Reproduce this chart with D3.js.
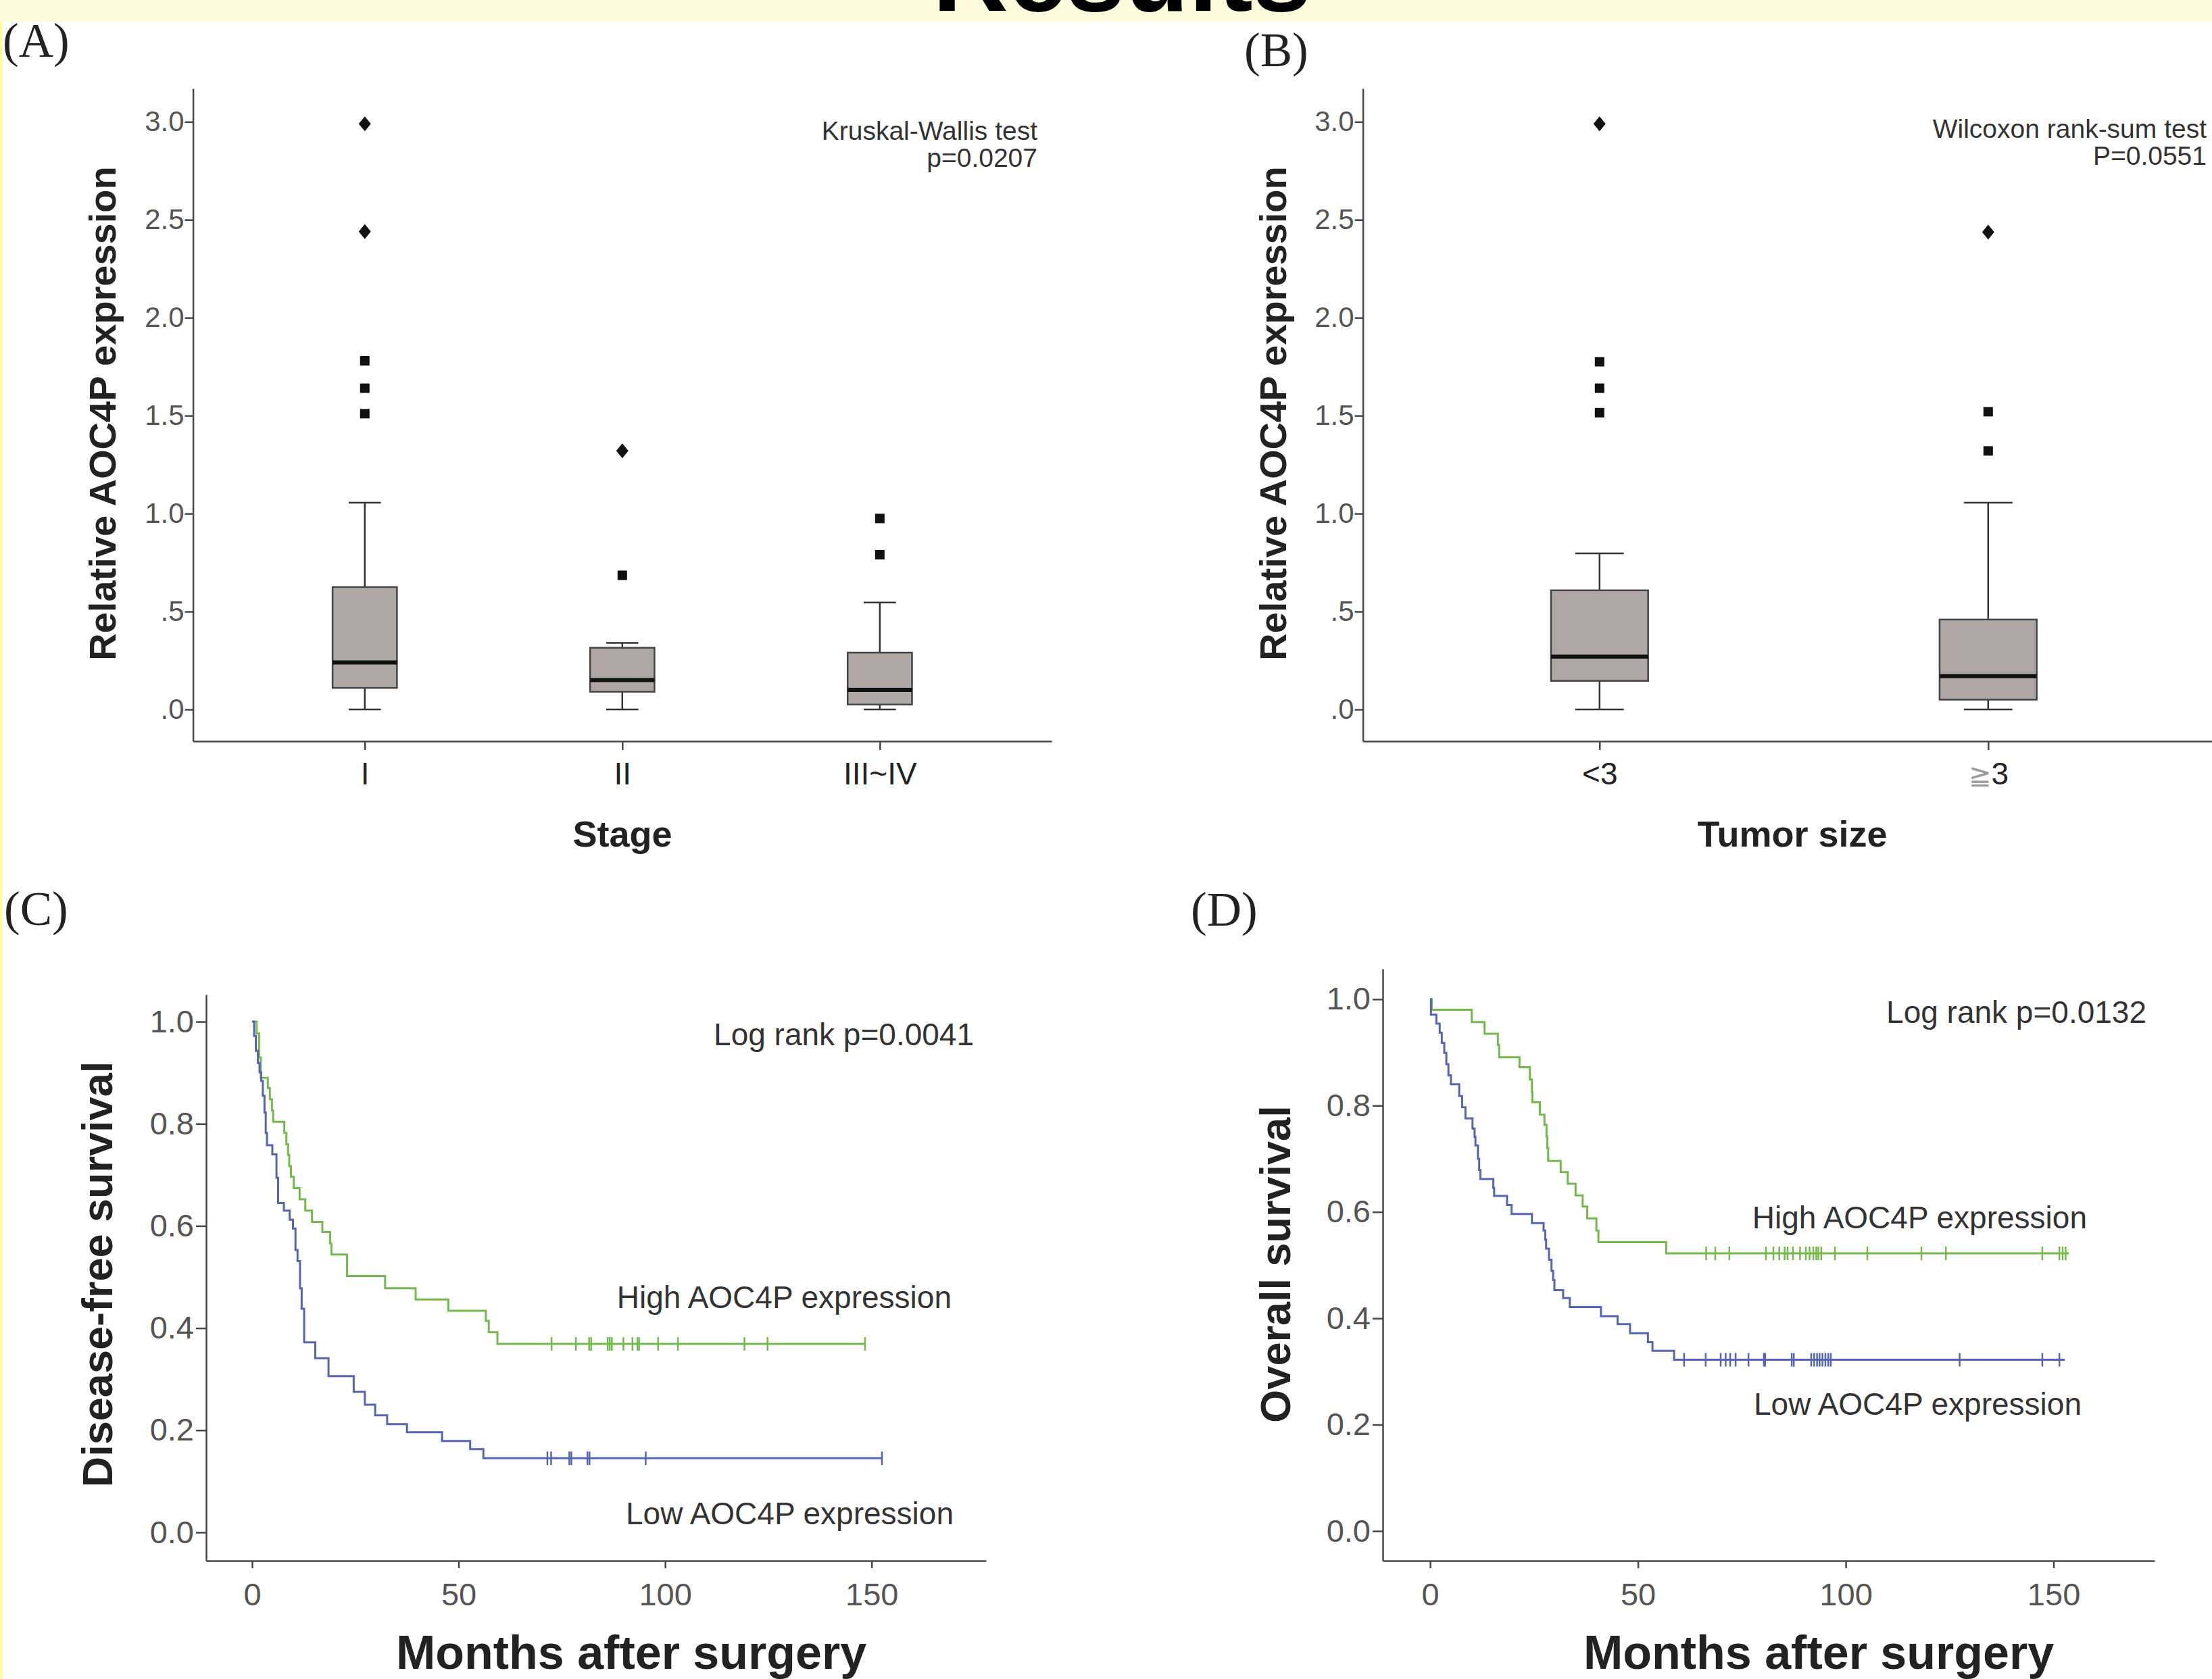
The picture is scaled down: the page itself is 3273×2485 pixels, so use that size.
<!DOCTYPE html>
<html>
<head>
<meta charset="utf-8">
<script src="https://cdn.jsdelivr.net/npm/d3@7"></script>
<style>
  body { margin: 0; background: #fff; }
  svg { display: block; }
  text { font-family: "Liberation Sans", Arial, sans-serif; }
</style>
</head>
<body>
<script>
// ---- data ----

// box plots: y axis ticks
const boxTickValues = [0, 0.5, 1, 1.5, 2, 2.5, 3];
const boxTickLabels = [".0", ".5", "1.0", "1.5", "2.0", "2.5", "3.0"];

// (A) stage
const stageCats = ["I", "II", "III~IV"];
const stageLow = [0, 0, 0];
const stageQ1 = [0.11, 0.09, 0.025];
const stageMedian = [0.24, 0.15, 0.10];
const stageQ3 = [0.625, 0.315, 0.29];
const stageHigh = [1.056, 0.34, 0.546];
const stageOutliers = [[1.51, 1.64, 1.78], [0.685], [0.79, 0.975]];
const stageExtremes = [[2.44, 2.99], [1.32], []];

// (B) tumor size
const sizeCats = ["<3", "≧3"];
const sizeLow = [0, 0];
const sizeQ1 = [0.146, 0.05];
const sizeMedian = [0.27, 0.17];
const sizeQ3 = [0.608, 0.459];
const sizeHigh = [0.797, 1.056];
const sizeOutliers = [[1.515, 1.64, 1.775], [1.32, 1.52]];
const sizeExtremes = [[2.99], [2.437]];

// survival axes
const monthTicks = [0, 50, 100, 150];
const survTicks = [0, 0.2, 0.4, 0.6, 0.8, 1.0];

// (C) disease-free survival, [month, survival] after each event
const dfsHigh = [[0, 1], [1.1, 0.977], [1.7, 0.93], [2.1, 0.89], [3.8, 0.87], [4.3, 0.848], [4.8, 0.826],
  [5.1, 0.804], [7.8, 0.782], [8.3, 0.76], [8.7, 0.739], [9.0, 0.717], [9.4, 0.696], [10.1, 0.674],
  [11.5, 0.652], [12.9, 0.63], [14.5, 0.608], [17.0, 0.588], [18.9, 0.566], [19.2, 0.544], [23.0, 0.502],
  [32.2, 0.478], [39.6, 0.456], [47.5, 0.434], [56.6, 0.414], [57.3, 0.392], [59.4, 0.369]];
const dfsHighEnd = 148.4;
const dfsHighCensor = [72.5, 78.4, 81.6, 82.1, 86.1, 86.6, 87.1, 89.9, 92.1, 93.3, 93.7, 98.3, 103.1, 119.2, 124.8, 148.4];

const dfsLow = [[0, 1], [0.5, 0.972], [0.9, 0.943], [1.4, 0.919], [1.8, 0.901], [2.2, 0.884], [2.6, 0.855],
  [3.0, 0.822], [3.3, 0.782], [3.6, 0.758], [4.9, 0.74], [5.9, 0.694], [6.3, 0.645], [7.7, 0.63],
  [9.1, 0.612], [9.9, 0.595], [10.5, 0.553], [11.0, 0.531], [11.6, 0.478], [12.0, 0.438], [12.6, 0.372],
  [15.3, 0.341], [18.5, 0.306], [24.6, 0.275], [27.3, 0.25], [29.8, 0.229], [32.7, 0.212], [37.5, 0.196],
  [46.0, 0.179], [52.8, 0.163], [56.0, 0.145]];
const dfsLowEnd = 152.5;
const dfsLowCensor = [71.5, 72.4, 76.8, 77.3, 81.2, 81.7, 95.3, 152.5];

// (D) overall survival
const osHigh = [[0, 1], [0.4, 0.98], [10.0, 0.957], [13.1, 0.935], [16.3, 0.914], [16.6, 0.891], [21.5, 0.872],
  [24.0, 0.849], [24.5, 0.825], [24.6, 0.806], [26.4, 0.783], [27.5, 0.764], [28.0, 0.742], [28.2, 0.72],
  [28.4, 0.696], [31.4, 0.675], [33.1, 0.653], [35.0, 0.631], [36.7, 0.61], [37.8, 0.588], [40.0, 0.565],
  [40.5, 0.543], [56.8, 0.522]];
const osHighEnd = 153.7;
const osHighCensor = [66.4, 68.6, 72.0, 80.8, 82.6, 84.0, 85.3, 86.0, 87.3, 89.0, 90.4, 91.3, 92.2, 92.9,
  93.4, 94.1, 97.4, 105.2, 118.2, 124.1, 147.3, 151.4, 152.2, 152.9];

const osLow = [[0, 1], [0.2, 0.971], [1.5, 0.954], [2.3, 0.937], [2.8, 0.918], [3.4, 0.899], [3.9, 0.878],
  [4.4, 0.857], [5.0, 0.84], [7.0, 0.818], [7.7, 0.797], [8.5, 0.776], [10.2, 0.757], [10.7, 0.741],
  [10.9, 0.725], [11.5, 0.7], [11.8, 0.679], [12.1, 0.662], [15.2, 0.645], [15.4, 0.63], [18.5, 0.613],
  [19.6, 0.596], [24.5, 0.579], [27.3, 0.565], [27.7, 0.548], [27.9, 0.531], [28.6, 0.51], [29.2, 0.489],
  [29.6, 0.472], [29.9, 0.453], [32.0, 0.438], [33.6, 0.421], [41.1, 0.404], [45.1, 0.389], [48.1, 0.372],
  [52.4, 0.355], [53.5, 0.339], [58.7, 0.322]];
const osLowEnd = 152.7;
const osLowCensor = [61.1, 66.3, 69.9, 71.1, 72.2, 73.5, 76.6, 80.3, 80.6, 87.0, 87.5, 91.7, 92.4, 93.1,
  93.7, 94.4, 95.1, 95.8, 96.4, 127.4, 147.3, 151.4];

// ---- styles ----
const W = 3273, H = 2485;
const AXIS_COLOR = "#474747";
const TICK_TEXT = "#555";
const NOTE_TEXT = "#333";
const BOX_FILL = "#afa7a3";
const GREEN = "#74b94c";
const BLUE = "#5565b3";

const svg = d3.select("body").append("svg").attr("width", W).attr("height", H);

svg.append("rect").attr("width", W).attr("height", H).attr("fill", "#fff");
// slide header band and left edge
svg.append("rect").attr("width", W).attr("height", 32).attr("fill", "#fdfbdb");
svg.append("rect").attr("y", 32).attr("width", 3).attr("height", H - 32).attr("fill", "#ffff8c");
svg.append("text").attr("x", 1660).attr("y", 16).attr("text-anchor", "middle")
  .attr("font-size", 155).attr("font-weight", "bold").attr("fill", "#000").text("Results");

const panelLabel = (x, y, s) => svg.append("text").attr("x", x).attr("y", y)
  .style("font-family", '"Liberation Serif", "Times New Roman", serif')
  .attr("font-size", 71).attr("fill", "#222").text(s);

const styleAxis = (sel, size, color) => {
  sel.select(".domain").attr("stroke", AXIS_COLOR).attr("stroke-width", 2.5);
  sel.selectAll(".tick line").attr("stroke", AXIS_COLOR).attr("stroke-width", 2.5);
  sel.selectAll(".tick text").attr("font-size", size).attr("fill", color)
    .style("font-family", '"Liberation Sans", Arial, sans-serif');
};

// box plot panel
const drawBoxPanel = (cfg) => {
  const g = svg.append("g");
  const x = d3.scalePoint().domain(cfg.cats).range(cfg.xRange).padding(cfg.pad);
  const y = d3.scaleLinear().domain([-0.162, 3.17]).range([1097, 131]);
  const bw = x.step() * 0.25;

  g.append("g").attr("transform", `translate(${cfg.xRange[0]},0)`)
    .call(d3.axisLeft(y).tickValues(boxTickValues).tickFormat((d, i) => boxTickLabels[i])
      .tickSize(12).tickSizeOuter(0).tickPadding(1))
    .call(s => styleAxis(s, 42, TICK_TEXT));
  const xAxis = g.append("g").attr("transform", `translate(0,${y.range()[0]})`)
    .call(d3.axisBottom(x).tickSize(13).tickSizeOuter(0).tickPadding(18))
    .call(s => styleAxis(s, 46, "#222"));
  // the ≧ sign is printed lighter than the digit
  xAxis.selectAll(".tick text").filter(d => d.startsWith("≧")).each(function (d) {
    const t = d3.select(this).text(null);
    t.append("tspan").attr("fill", "#9a9a9a").attr("font-size", 40).text(d.slice(0, 1));
    t.append("tspan").text(d.slice(1));
  });

  cfg.cats.forEach((c, i) => {
    const cx = x(c);
    const bg = g.append("g");
    bg.append("line").attr("x1", cx).attr("x2", cx).attr("y1", y(cfg.low[i])).attr("y2", y(cfg.high[i]))
      .attr("stroke", "#333").attr("stroke-width", 2.5);
    [cfg.low[i], cfg.high[i]].forEach(v => bg.append("line")
      .attr("x1", cx - bw / 4).attr("x2", cx + bw / 4).attr("y1", y(v)).attr("y2", y(v))
      .attr("stroke", "#333").attr("stroke-width", 2.5));
    bg.append("rect").attr("x", cx - bw / 2).attr("width", bw)
      .attr("y", y(cfg.q3[i])).attr("height", y(cfg.q1[i]) - y(cfg.q3[i]))
      .attr("fill", BOX_FILL).attr("stroke", "#444").attr("stroke-width", 2.5);
    bg.append("line").attr("x1", cx - bw / 2).attr("x2", cx + bw / 2)
      .attr("y1", y(cfg.median[i])).attr("y2", y(cfg.median[i]))
      .attr("stroke", "#111").attr("stroke-width", 6);
    bg.selectAll("rect.out").data(cfg.outliers[i]).join("rect").attr("class", "out")
      .attr("x", cx - 7).attr("y", d => y(d) - 7).attr("width", 14).attr("height", 14).attr("fill", "#111");
    bg.selectAll("path.ext").data(cfg.extremes[i]).join("path").attr("class", "ext")
      .attr("d", d => `M${cx},${y(d) - 11}L${cx + 9},${y(d)}L${cx},${y(d) + 11}L${cx - 9},${y(d)}Z`)
      .attr("fill", "#111");
  });

  g.append("text").attr("transform", `translate(${cfg.yLabelX},${cfg.yLabelY}) rotate(-90)`)
    .attr("text-anchor", "middle").attr("font-size", 56).attr("font-weight", "bold").attr("fill", "#222")
    .text("Relative AOC4P expression");
  g.append("text").attr("x", cfg.xLabelX).attr("y", 1253).attr("text-anchor", "middle")
    .attr("font-size", 54).attr("font-weight", "bold").attr("fill", "#222").text(cfg.xLabel);
  cfg.notes.forEach((t, i) => g.append("text").attr("x", cfg.noteX).attr("y", cfg.noteY + i * 40)
    .attr("text-anchor", "end").attr("font-size", 39).attr("fill", NOTE_TEXT).text(t));
};

// Kaplan-Meier panel
const drawKmPanel = (cfg) => {
  const g = svg.append("g");
  const x = d3.scaleLinear().domain(cfg.xDomain).range(cfg.xRange);
  const y = d3.scaleLinear().domain(cfg.yDomain).range(cfg.yRange);

  g.append("g").attr("transform", `translate(${cfg.xRange[0]},0)`)
    .call(d3.axisLeft(y).tickValues(survTicks).tickFormat(d3.format(".1f"))
      .tickSize(15).tickSizeOuter(0).tickPadding(3))
    .call(s => styleAxis(s, 47, TICK_TEXT));
  g.append("g").attr("transform", `translate(0,${cfg.yRange[0]})`)
    .call(d3.axisBottom(x).tickValues(monthTicks).tickSize(11).tickSizeOuter(0).tickPadding(22))
    .call(s => styleAxis(s, 47, TICK_TEXT));

  const line = d3.line().x(d => x(d[0])).y(d => y(d[1])).curve(d3.curveStepAfter);
  const stepAt = (steps, t) => {
    let s = steps[0][1];
    steps.forEach(p => { if (p[0] <= t) s = p[1]; });
    return s;
  };
  cfg.curves.forEach(cv => {
    const pts = cv.steps.concat([[cv.end, cv.steps[cv.steps.length - 1][1]]]);
    g.append("path").attr("d", line(pts)).attr("fill", "none")
      .attr("stroke", cv.color).attr("stroke-width", 3);
    g.selectAll(null).data(cv.censor).join("line")
      .attr("x1", d => x(d)).attr("x2", d => x(d))
      .attr("y1", d => y(stepAt(cv.steps, d)) - 10).attr("y2", d => y(stepAt(cv.steps, d)) + 10)
      .attr("stroke", cv.color).attr("stroke-width", 2.5);
  });

  g.append("text").attr("transform", `translate(${cfg.yLabelX},${cfg.yLabelY}) rotate(-90)`)
    .attr("text-anchor", "middle").attr("font-size", 63).attr("font-weight", "bold").attr("fill", "#222")
    .text(cfg.yLabel);
  g.append("text").attr("x", cfg.xLabelX).attr("y", 2470).attr("text-anchor", "middle")
    .attr("font-size", 70).attr("font-weight", "bold").attr("fill", "#222").text("Months after surgery");
  cfg.notes.forEach(n => g.append("text").attr("x", n[0]).attr("y", n[1]).attr("text-anchor", "end")
    .attr("font-size", 46).attr("fill", NOTE_TEXT).text(n[2]));
};

panelLabel(4, 84, "(A)");
panelLabel(1841, 98, "(B)");
panelLabel(6, 1369, "(C)");
panelLabel(1762, 1370, "(D)");

drawBoxPanel({
  cats: stageCats, xRange: [285.6, 1556], pad: 0.667,
  low: stageLow, q1: stageQ1, median: stageMedian, q3: stageQ3, high: stageHigh,
  outliers: stageOutliers, extremes: stageExtremes,
  yLabelX: 171, yLabelY: 612, xLabel: "Stage", xLabelX: 921,
  notes: ["Kruskal-Wallis test", "p=0.0207"], noteX: 1535, noteY: 207
});

drawBoxPanel({
  cats: sizeCats, xRange: [2016.6, 3292], pad: 0.609,
  low: sizeLow, q1: sizeQ1, median: sizeMedian, q3: sizeQ3, high: sizeHigh,
  outliers: sizeOutliers, extremes: sizeExtremes,
  yLabelX: 1903, yLabelY: 612, xLabel: "Tumor size", xLabelX: 2652,
  notes: ["Wilcoxon rank-sum test", "P=0.0551"], noteX: 3265, noteY: 204
});

drawKmPanel({
  xDomain: [-11.13, 177.7], xRange: [305, 1459],
  yDomain: [-0.0556, 1.053], yRange: [2310, 1472],
  yLabel: "Disease-free survival", yLabelX: 166, yLabelY: 1886, xLabelX: 934,
  curves: [
    { steps: dfsHigh, end: dfsHighEnd, censor: dfsHighCensor, color: GREEN },
    { steps: dfsLow, end: dfsLowEnd, censor: dfsLowCensor, color: BLUE }
  ],
  notes: [[1441, 1547, "Log rank p=0.0041"], [1408, 1936, "High AOC4P expression"],
    [1411, 2256, "Low AOC4P expression"]]
});

drawKmPanel({
  xDomain: [-11.4, 174.3], xRange: [2046, 3188],
  yDomain: [-0.0559, 1.057], yRange: [2310, 1434],
  yLabel: "Overall survival", yLabelX: 1909, yLabelY: 1871, xLabelX: 2691,
  curves: [
    { steps: osHigh, end: osHighEnd, censor: osHighCensor, color: GREEN },
    { steps: osLow, end: osLowEnd, censor: osLowCensor, color: BLUE }
  ],
  notes: [[3176, 1514, "Log rank p=0.0132"], [3088, 1818, "High AOC4P expression"],
    [3080, 2094, "Low AOC4P expression"]]
});
</script>
</body>
</html>
